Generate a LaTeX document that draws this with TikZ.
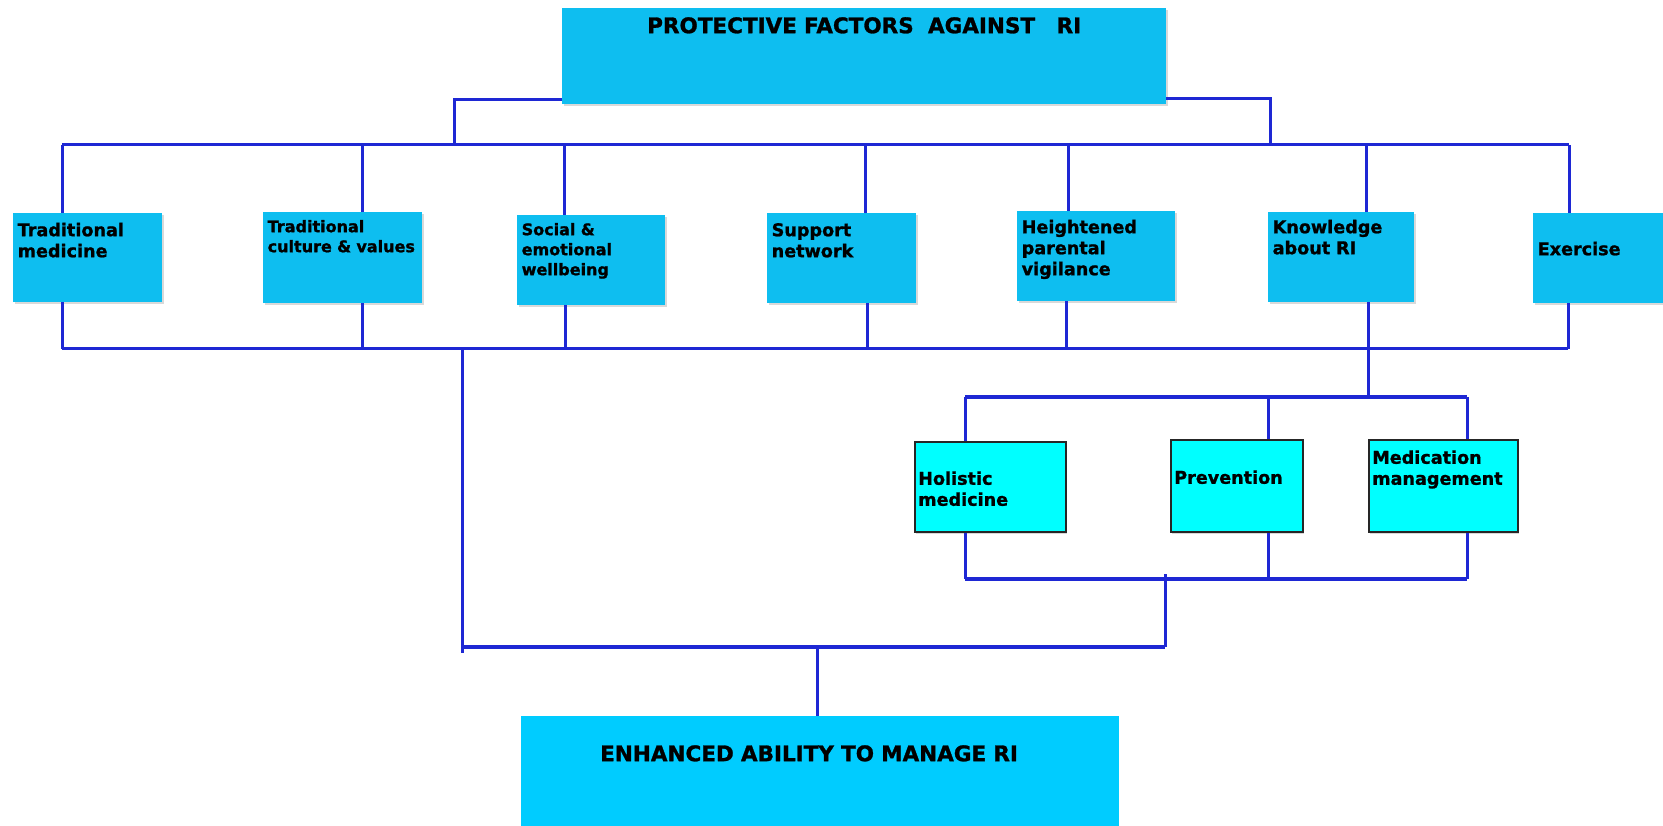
\documentclass[tikz,border=0pt]{standalone}
\usepackage{fontspec}
\setmainfont{DejaVu Sans}[BoldFeatures={FakeBold=1.2}]
\usetikzlibrary{shadows}

\definecolor{skyblue}{RGB}{14,190,240}
\definecolor{deepsky}{RGB}{0,204,255}
\definecolor{aqua}{RGB}{0,255,255}
\definecolor{linkblue}{RGB}{30,40,212}

\newcommand\factorfont{\fontsize{17.6}{21}\selectfont\bfseries\hyphenpenalty=10000}
\newcommand\smallfactorfont{\fontsize{16}{20}\selectfont\bfseries\hyphenpenalty=10000}
\newcommand\headfont{\fontsize{21.5}{24}\selectfont\bfseries}

\tikzset{
	factor/.style={fill=skyblue, anchor=north west, inner xsep=4.5pt, inner ysep=0pt, align=left, font=\factorfont,
		drop shadow={shadow xshift=1.5pt, shadow yshift=-2pt, opacity=0.3}},
	sub/.style={factor, fill=aqua, draw=black!85, line width=1.5pt, inner xsep=3.5pt},
	result/.style={fill=deepsky, anchor=north west, inner xsep=79pt, inner ysep=0pt, align=left, font=\headfont},
	link/.style={draw=linkblue, line width=3pt},
	bus/.style={link, line width=4pt}
}

\begin{document}
\begin{tikzpicture}[x=1pt, y=-1pt]
	\useasboundingbox (0,0) rectangle (1663,826);

	% boxes
	\node[factor, align=center, font=\headfont, text width=595pt, text height=25pt, text depth=71pt] (top) at (562,8) {PROTECTIVE FACTORS\ \ AGAINST\ \ \ RI};

	\node[factor, text width=140pt, text height=23pt, text depth=66pt] (tradmed) at (13,213) {Traditional\\medicine};
	\node[factor, font=\smallfactorfont, text width=150pt, text height=20pt, text depth=71pt] (tradcult) at (263,212) {Traditional\\culture~\&~values};
	\node[factor, font=\smallfactorfont, text width=139pt, text height=20pt, text depth=70pt] (social) at (517,215) {Social~\&\\emotional\\wellbeing};
	\node[factor, text width=140pt, text height=23pt, text depth=67pt] (support) at (767,213) {Support\\network};
	\node[factor, text width=149pt, text height=22pt, text depth=68pt] (vigil) at (1017,211) {Heightened\\parental\\vigilance};
	\node[factor, text width=137pt, text height=21pt, text depth=69pt] (knowl) at (1268,212) {Knowledge\\about~RI};
	\node[factor, text width=121pt, text height=42pt, text depth=48pt] (exer) at (1533,213) {Exercise};

	\node[sub, text width=144pt, text height=43pt, text depth=47pt] (holis) at (914,441) {Holistic\\medicine};
	\node[sub, text width=125pt, text height=44pt, text depth=48pt] (prev) at (1170,439) {Prevention};
	\node[sub, text width=142pt, text height=24pt, text depth=68pt] (medic) at (1368,439) {Medication\\management};

	\node[result, text width=440pt, text height=45pt, text depth=65pt] (goal) at (521,716) {ENHANCED ABILITY TO MANAGE RI};

	% upper bus
	\coordinate (upL) at (62,145);
	\coordinate (upR) at (1569,145);
	\draw[link] (upL) -- (upR);
	\draw[link] ([yshift=5pt]top.south west) -| (454,145);
	\draw[link] ([yshift=6pt]top.south east) -| (1270,145);
	\foreach \n/\x in {tradmed/62,tradcult/362,social/564,support/865,vigil/1068,knowl/1366,exer/1569}
		\draw[link] (\x,0 |- upL) -- (\x,0 |- \n.north);

	% lower bus
	\coordinate (loL) at (62,349);
	\coordinate (loR) at (1568,349);
	\draw[link] (loL) -- (loR);
	\foreach \n/\x in {tradmed/62,tradcult/362,social/565,support/867,vigil/1066,exer/1568}
		\draw[link] (\x,0 |- \n.south) -- (\x,0 |- loL);

	% knowledge branch
	\coordinate (kbL) at (965,397);
	\coordinate (kbR) at (1467,397);
	\coordinate (kaL) at (965,579);
	\coordinate (kaR) at (1467,579);
	\draw[link] (1368,0 |- knowl.south) -- (1368,0 |- kbL);
	\draw[bus] (kbL) -- (kbR);
	\draw[bus] (kaL) -- (kaR);
	\foreach \n/\x in {holis/965,prev/1268,medic/1467}
	{
		\draw[link] (\x,0 |- kbL) -- (\x,0 |- \n.north);
		\draw[link] (\x,0 |- \n.south) -- (\x,0 |- kaL);
	}

	% to the outcome
	\coordinate (gbL) at (462,647);
	\coordinate (gbR) at (1165,647);
	\draw[link] (462,0 |- loL) -- (462,653);
	\draw[link] (1165,574) -- (gbR);
	\draw[bus] (gbL) -- (gbR);
	\draw[link] (817,0 |- gbL) -- (817,0 |- goal.north);
\end{tikzpicture}
\end{document}
